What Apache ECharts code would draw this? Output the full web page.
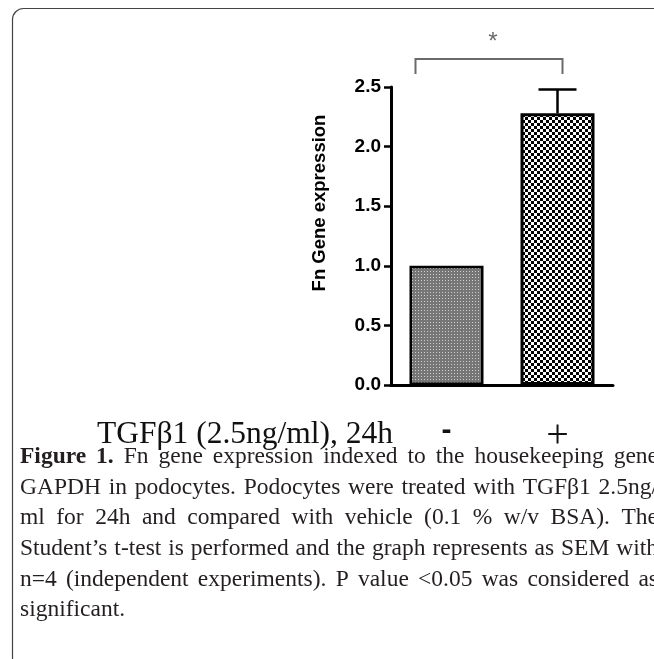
<!DOCTYPE html>
<html>
<head>
<meta charset="utf-8">
<script src="https://cdn.jsdelivr.net/npm/echarts@6/dist/echarts.min.js"></script>
<style>
html,body{margin:0;padding:0;background:#fff;}
#chart{width:654px;height:659px;}
</style>
</head>
<body>
<div id="chart"></div>
<script>
// ---- data ----
const categories = ['-', '+'];
const meanValues = [1.0, 2.28];
const semValues = [0, 0.20];
const yTicks = [0, 0.5, 1.0, 1.5, 2.0, 2.5];
const yAxisTitle = 'Fn Gene expression';
const xAxisTitle = 'TGF\u03b21 (2.5ng/ml), 24h';
const significance = '*';
const sigBracket = [0, 1]; // compared category indices
const captionLines = [
  'Figure 1. Fn gene expression indexed to the housekeeping gene',
  'GAPDH in podocytes. Podocytes were treated with TGF\u03b21 2.5ng/',
  'ml for 24h and compared with vehicle (0.1 % w/v BSA). The',
  'Student\u2019s t-test is performed and the graph represents as SEM with',
  'n=4 (independent experiments). P value <0.05 was considered as',
  'significant.'
];

// ---- patterns ----
function makePattern(size, draw) {
  const c = document.createElement('canvas');
  c.width = size; c.height = size;
  const g = c.getContext('2d');
  draw(g);
  return c;
}
const grayPattern = makePattern(3, g => {
  g.fillStyle = '#767676'; g.fillRect(0, 0, 3, 3);
  g.fillStyle = '#cfcfcf'; g.fillRect(1, 1, 1, 1);
});
const checkPattern = makePattern(6, g => {
  g.fillStyle = '#ffffff'; g.fillRect(0, 0, 6, 6);
  g.fillStyle = '#000000'; g.fillRect(0, 0, 3, 3); g.fillRect(3, 3, 3, 3);
});
const fills = [
  { image: grayPattern, repeat: 'repeat' },
  { image: checkPattern, repeat: 'repeat' }
];

// ---- caption layout (justified) ----
const capFont = 23.5;
const capFamily = '"Liberation Serif", "Times New Roman", serif';
const mctx = document.createElement('canvas').getContext('2d');
function wordWidth(w, bold) {
  mctx.font = (bold ? 'bold ' : '') + capFont + 'px ' + capFamily;
  return mctx.measureText(w).width;
}
const capLeft = 20, capRight = 658, capTop = 469, capStep = 30.6;
const captionGraphics = [];
captionLines.forEach((line, li) => {
  const words = line.split(' ');
  const bolds = words.map((w, wi) => li === 0 && wi < 2);
  const widths = words.map((w, wi) => wordWidth(w, bolds[wi]));
  const total = widths.reduce((a, b) => a + b, 0);
  const justify = li < captionLines.length - 1;
  const minGap = capFont * 0.2;
  let gap = justify ? (capRight - capLeft - total) / (words.length - 1) : wordWidth(' ', false);
  let sx = 1;
  if (gap < minGap) {
    gap = minGap;
    sx = (capRight - capLeft - minGap * (words.length - 1)) / total;
  }
  let x = capLeft;
  words.forEach((w, wi) => {
    captionGraphics.push({
      type: 'text', x: x, y: capTop + li * capStep, scaleX: sx,
      style: {
        text: w, fill: '#231f20',
        font: (bolds[wi] ? 'bold ' : '') + capFont + 'px ' + capFamily,
        textVerticalAlign: 'bottom', verticalAlign: 'bottom'
      }
    });
    x += widths[wi] * sx + gap;
  });
});

const chart = echarts.init(document.getElementById('chart'), null, { renderer: 'canvas' });

const option = {
  animation: false,
  backgroundColor: '#fff',
  grid: { left: 391, right: 41, top: 87, bottom: 274, containLabel: false },
  xAxis: {
    type: 'category',
    data: categories,
    axisLine: { lineStyle: { color: '#000', width: 3 } },
    axisTick: { alignWithLabel: true, length: 11, lineStyle: { color: '#000', width: 2.5 } },
    axisLabel: {
      margin: 31,
      color: '#111',
      formatter: v => v === '+' ? '{p|+}' : '{m|-}',
      rich: {
        m: { fontFamily: '"Liberation Sans", Arial, sans-serif', fontSize: 30, fontWeight: 'bold', color: '#111' },
        p: { fontFamily: '"Liberation Serif", serif', fontSize: 40, color: '#111' }
      }
    }
  },
  yAxis: {
    type: 'value',
    min: 0, max: 2.5, interval: 0.5,
    name: yAxisTitle,
    nameLocation: 'middle',
    nameRotate: 90,
    nameGap: 62,
    nameTextStyle: {
      fontFamily: '"Liberation Sans", Arial, sans-serif',
      fontWeight: 'bold', fontSize: 18.5, color: '#000',
      padding: [0, 0, 0, 66]
    },
    splitLine: { show: false },
    axisLine: { show: true, lineStyle: { color: '#000', width: 3 } },
    axisTick: { show: true, length: 7, lineStyle: { color: '#000', width: 2.5 } },
    axisLabel: {
      margin: 10,
      fontFamily: '"Liberation Sans", Arial, sans-serif',
      fontWeight: 'bold', fontSize: 19, color: '#000',
      formatter: v => yTicks.indexOf(v) >= 0 ? v.toFixed(1) : ''
    }
  },
  series: [
    {
      type: 'bar',
      barWidth: 74,
      data: meanValues.map((v, i) => ({
        value: v,
        itemStyle: { color: fills[i], borderColor: '#000', borderWidth: i === 0 ? 2.5 : 3 }
      })),
      z: 2
    },
    {
      type: 'custom',
      z: 3,
      clip: false,
      data: meanValues.map((v, i) => [i, v, v + semValues[i]]),
      renderItem: function (params, api) {
        const i = api.value(0);
        if (api.value(2) <= api.value(1)) return { type: 'group', children: [] };
        const top = api.coord([i, api.value(2)]);
        const bot = api.coord([i, api.value(1)]);
        const style = { stroke: '#000', lineWidth: 2.5 };
        return {
          type: 'group',
          children: [
            { type: 'line', shape: { x1: top[0], y1: top[1], x2: bot[0], y2: bot[1] }, style },
            { type: 'line', shape: { x1: top[0] - 19, y1: top[1], x2: top[0] + 19, y2: top[1] }, style }
          ]
        };
      }
    },
    {
      type: 'custom',
      z: 3,
      clip: false,
      silent: true,
      data: [[sigBracket[0], sigBracket[1]]],
      renderItem: function (params, api) {
        const top = Math.max(...meanValues.map((v, i) => v + semValues[i])) + 0.255;
        const a = api.coord([api.value(0), top]);
        const b = api.coord([api.value(1), top]);
        const x1 = a[0] - 31, x2 = b[0] + 5, y = a[1], yd = a[1] + 15;
        const style = { stroke: '#6a6a6a', lineWidth: 2, fill: null };
        return {
          type: 'group',
          children: [
            { type: 'polyline', shape: { points: [[x1, yd], [x1, y], [x2, y], [x2, yd]] }, style },
            { type: 'text', x: (x1 + x2) / 2 + 4, y: y - 17,
              style: { text: significance, fill: '#6a6a6a', font: '24px "Liberation Sans", Arial, sans-serif',
                       textAlign: 'center', textVerticalAlign: 'middle', align: 'center', verticalAlign: 'middle' } }
          ]
        };
      }
    }
  ],
  graphic: [
    {
      type: 'rect', z: -1, silent: true,
      shape: { x: 12.5, y: 8.5, width: 700, height: 660, r: 11 },
      style: { fill: null, stroke: '#444', lineWidth: 1.2 }
    },
    {
      type: 'text', x: 97, y: 451,
      style: {
        text: xAxisTitle, fill: '#111',
        font: '31.5px "Liberation Serif", "Times New Roman", serif',
        textVerticalAlign: 'bottom', verticalAlign: 'bottom'
      }
    }
  ].concat(captionGraphics)
};
chart.setOption(option);
</script>
</body>
</html>
